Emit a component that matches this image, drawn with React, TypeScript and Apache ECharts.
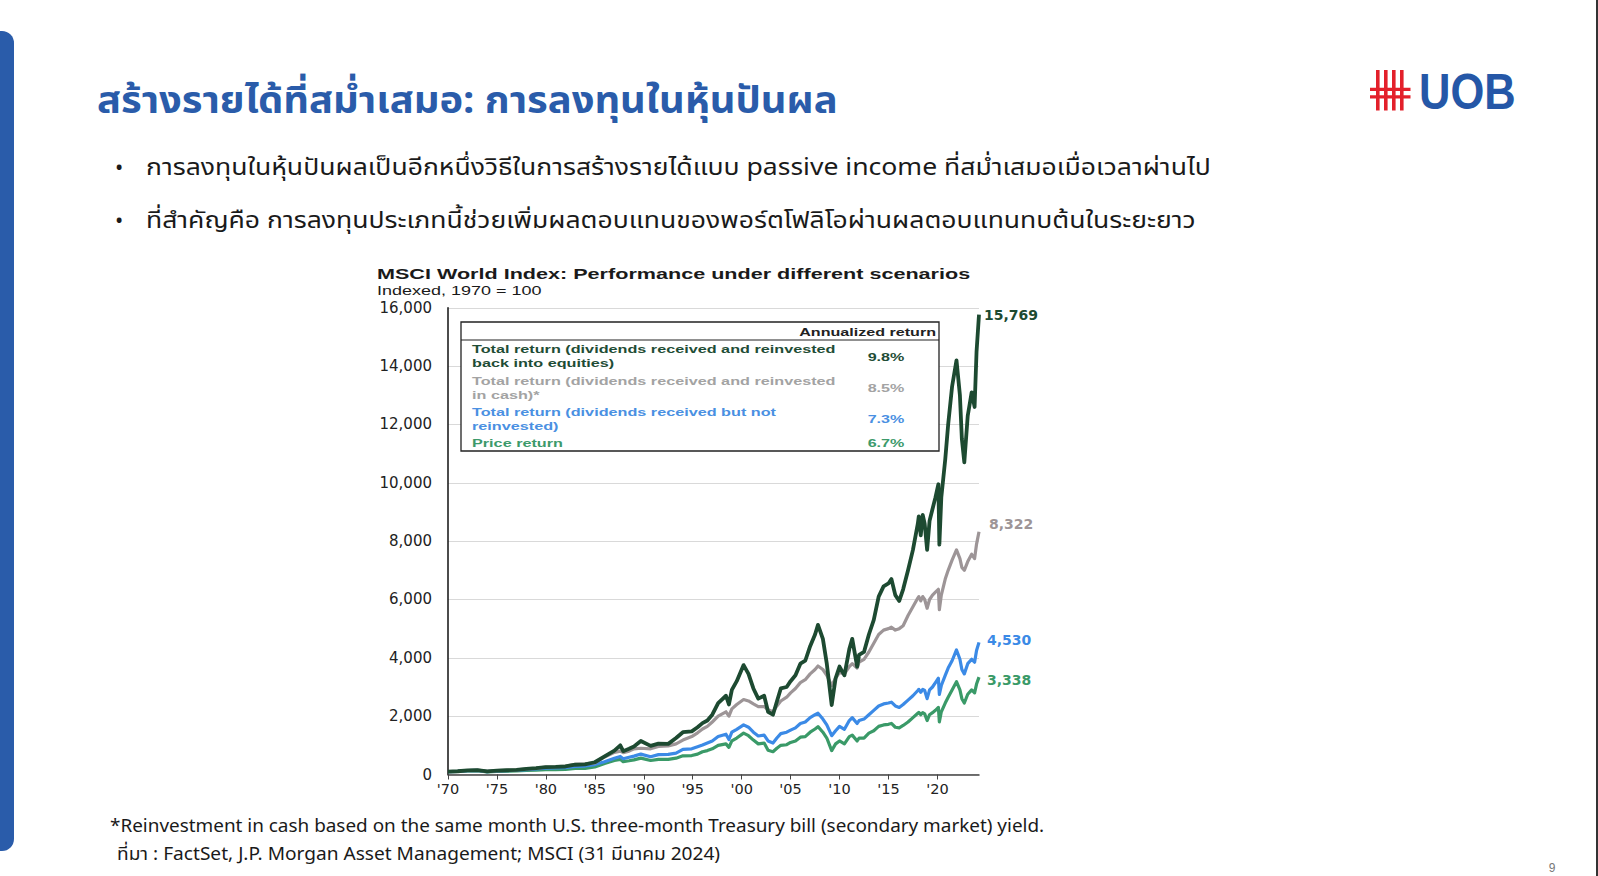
import React, { useEffect, useRef } from "react";
import * as echarts from "echarts";

// ---------- DATA ----------
const years = [
  1970, 1971, 1972, 1973, 1974, 1975, 1976, 1977, 1978, 1979,
  1980, 1981, 1982, 1983, 1984, 1985, 1986, 1987, 1987.6, 1987.9,
  1988.5, 1989, 1989.7, 1990.7, 1991.5, 1992.5, 1993.3, 1994, 1994.9, 1995.5,
  1996, 1996.5, 1997, 1997.6, 1998.4, 1998.7, 1999, 1999.5, 2000.2, 2000.7,
  2001.2, 2001.7, 2002.3, 2002.7, 2003.2, 2003.6, 2004, 2004.6, 2005, 2005.5,
  2006, 2006.5, 2007, 2007.5, 2007.8, 2008.3, 2008.7, 2009.2, 2009.6, 2010,
  2010.5, 2011, 2011.3, 2011.8, 2012, 2012.5, 2013, 2013.5, 2014, 2014.5,
  2015, 2015.3, 2015.7, 2016.1, 2016.5, 2017, 2017.5, 2018, 2018.1, 2018.3,
  2018.5, 2018.7, 2018.95, 2019.2, 2019.5, 2019.8, 2020.1, 2020.2, 2020.4, 2020.8,
  2021.1, 2021.5, 2021.95, 2022.3, 2022.5, 2022.75, 2023.1, 2023.5, 2023.8, 2024.0,
  2024.25,
];

const totalReinvestedEquities = [
  100, 112, 140, 150, 105, 130, 145, 160, 190, 215,
  255, 260, 275, 335, 350, 420, 620, 820, 1000, 800,
  880, 960, 1150, 980, 1060, 1050, 1250, 1450, 1480, 1620,
  1760, 1850, 2050, 2450, 2700, 2400, 2900, 3200, 3750, 3450,
  2950, 2600, 2700, 2150, 2050, 2500, 2950, 3000, 3200, 3400,
  3800, 3900, 4400, 4800, 5130, 4650, 3800, 2380, 3300, 3700,
  3400, 4300, 4650, 3700, 4100, 4200, 4800, 5300, 6100, 6450,
  6550, 6700, 6150, 5950, 6350, 7000, 7700, 8600, 8850, 8200,
  8900, 8600, 7700, 8700, 9100, 9500, 9950, 7880, 9500, 10800,
  12000, 13300, 14200, 13000, 11500, 10700, 12300, 13100, 12600, 14500,
  15769,
];

const totalReinvestedCash = [
  100, 111, 138, 148, 108, 130, 143, 158, 188, 212,
  255, 265, 285, 345, 365, 400, 600, 760, 800, 750,
  800, 880, 900, 880, 960, 980, 1050, 1180, 1300, 1430,
  1560, 1650, 1800, 2000, 2150, 2000, 2250, 2400, 2570, 2520,
  2420, 2330, 2330, 2220, 2150, 2350, 2520, 2650, 2800, 2950,
  3150, 3250, 3450, 3600, 3720, 3600, 3400, 3050, 3300, 3500,
  3450, 3700, 3800, 3650, 3850, 3950, 4200, 4500, 4800, 4950,
  5000, 5050, 4950, 5000, 5100, 5450, 5750, 6050, 6100, 5950,
  6100, 6000, 5700, 6000, 6150, 6250, 6350, 5650, 6150, 6700,
  7000, 7350, 7700, 7400, 7100, 7000, 7300, 7550, 7400, 7900,
  8322,
];

const totalNotReinvested = [
  100, 108, 132, 140, 100, 122, 133, 145, 170, 190,
  220, 222, 232, 280, 290, 340, 440, 560, 620, 540,
  590, 630, 700, 610, 680, 690, 730, 860, 880, 950,
  1010, 1080, 1150, 1300, 1380, 1200, 1450, 1550, 1700, 1620,
  1450, 1320, 1350, 1150, 1080, 1250, 1400, 1450, 1520, 1600,
  1750, 1800, 1950, 2050, 2100, 1900, 1700, 1330, 1500, 1650,
  1550, 1850, 1950, 1750, 1850, 1900, 2050, 2200, 2350, 2420,
  2450, 2480, 2350, 2300, 2400, 2550, 2700, 2880, 2920, 2820,
  2920, 2880, 2600, 2900, 3000, 3150, 3300, 2750, 3050, 3400,
  3650, 3900, 4270, 3950, 3600, 3450, 3800, 3950, 3850, 4250,
  4530,
];

const priceReturn = [
  100, 104, 125, 130, 88, 105, 112, 120, 138, 150,
  170, 168, 172, 205, 210, 260, 380, 480, 520, 440,
  470, 500, 560, 480, 520, 520, 560, 640, 650, 700,
  780, 820, 880, 1000, 1050, 930, 1150, 1250, 1420, 1330,
  1180, 1050, 1080, 830, 780, 900, 1000, 1020, 1100, 1150,
  1280, 1300, 1450, 1560, 1640, 1450, 1250, 820, 1050, 1150,
  1050, 1300, 1350, 1150, 1250, 1250, 1420, 1500, 1650, 1700,
  1720, 1750, 1620, 1600, 1680, 1800, 1950, 2100, 2130, 2050,
  2120, 2080, 1850, 2050, 2120, 2200, 2300, 1800, 2150, 2450,
  2650, 2900, 3180, 2900, 2600, 2450, 2750, 2900, 2800, 3100,
  3338,
];

const tableLabelLines = [
  ["Total return (dividends received and reinvested", "back into equities)"],
  ["Total return (dividends received and reinvested", "in cash)*"],
  ["Total return (dividends received but not", "reinvested)"],
  ["Price return"],
];
const annualizedReturns = ["9.8%", "8.5%", "7.3%", "6.7%"];

const bullets = [
  "การลงทุนในหุ้นปันผลเป็นอีกหนึ่งวิธีในการสร้างรายได้แบบ passive income ที่สม่ำเสมอเมื่อเวลาผ่านไป",
  "ที่สำคัญคือ การลงทุนประเภทนี้ช่วยเพิ่มผลตอบแทนของพอร์ตโฟลิโอผ่านผลตอบแทนทบต้นในระยะยาว",
];

// ---------- STYLE ----------
const C_DG = "#1d4a31";
const C_GRAY = "#9d9597";
const C_BLUE = "#3b8ae6";
const C_GREEN = "#3a9a68";
const T_DG = "#1f4d36";
const T_GRAY = "#a3a3a3";
const T_BLUE = "#4a90e2";
const T_GREEN = "#3d9a6b";
const UOB_BLUE = "#2a5caa";
const THAI = "'Noto Sans Thai', 'Noto Sans Thai UI', 'Sarabun', 'Loma', 'Garuda', 'Noto Sans', sans-serif";
const SX = 1.44;

function zip(vals: number[]) {
  const n = Math.min(years.length, vals.length);
  const out: number[][] = [];
  for (let i = 0; i < n; i++) out.push([years[i], vals[i]]);
  return out;
}

function fmt(v: number) {
  return Math.round(v).toLocaleString("en-US");
}

function lineSeries(name: string, vals: number[], color: string, width: number, offset: number[], z: number) {
  return {
    type: "line",
    name,
    data: zip(vals),
    showSymbol: false,
    symbol: "none",
    z,
    lineStyle: { color, width, join: "round" },
    itemStyle: { color },
    endLabel: {
      show: true,
      formatter: (p: any) => fmt(p.value[1]),
      color,
      fontFamily: "DejaVu Sans",
      fontWeight: "bold",
      fontSize: 14,
      distance: 5,
      offset,
    },
  };
}

export default function App() {
  const ref = useRef<HTMLDivElement>(null);
  useEffect(() => {
    document.body.style.margin = "0";
    const chart = echarts.init(ref.current!, null, { renderer: "svg" });

    const graphic: any[] = [];
    // left blue bar
    graphic.push({ type: "rect", shape: { x: -14, y: 31, width: 28, height: 820, r: 12 }, style: { fill: UOB_BLUE } });
    // right edge line
    graphic.push({ type: "rect", shape: { x: 1596, y: 0, width: 2, height: 876 }, style: { fill: "#333" } });
    // title
    graphic.push({
      type: "text", x: 97, y: 102, scaleX: 1.05,
      style: { text: "สร้างรายได้ที่สม่ำเสมอ: การลงทุนในหุ้นปันผล", font: `bold 38px ${THAI}`, fill: UOB_BLUE, align: "left", verticalAlign: "middle" },
    });
    // logo
    const red = "#e3202b";
    [1376, 1384, 1392, 1400].forEach((x) =>
      graphic.push({ type: "rect", shape: { x, y: 70, width: 3.6, height: 40.5 }, style: { fill: red } })
    );
    [87.7, 95.3].forEach((y) =>
      graphic.push({ type: "rect", shape: { x: 1370, y, width: 40.5, height: 3.2 }, style: { fill: red } })
    );
    graphic.push({
      type: "text", x: 1419, y: 92, scaleX: 0.87,
      style: { text: "UOB", font: "bold 50px 'Liberation Sans'", fill: "#2557a7", align: "left", verticalAlign: "middle" },
    });
    // bullets
    bullets.forEach((b, i) => {
      const y = 168 + i * 53;
      graphic.push({ type: "text", x: 115, y, style: { text: "•", font: `22px ${THAI}`, fill: "#1a1a1a", align: "left", verticalAlign: "middle" } });
      graphic.push({ type: "text", x: 146, y, scaleX: 1.13, style: { text: b, font: `23.5px ${THAI}`, fill: "#1a1a1a", align: "left", verticalAlign: "middle" } });
    });
    // chart title
    graphic.push({
      type: "text", x: 377, y: 274, scaleX: SX,
      style: { text: "MSCI World Index: Performance under different scenarios", font: "bold 15px 'Liberation Sans'", fill: "#1a1a1a", align: "left", verticalAlign: "middle" },
    });
    graphic.push({
      type: "text", x: 377, y: 290.5, scaleX: SX,
      style: { text: "Indexed, 1970 = 100", font: "12.5px 'Liberation Sans'", fill: "#1a1a1a", align: "left", verticalAlign: "middle" },
    });
    // table
    graphic.push({ type: "rect", z: 10, shape: { x: 461, y: 322, width: 478, height: 129 }, style: { fill: "#fff", stroke: "#222", lineWidth: 1.3 } });
    graphic.push({ type: "line", z: 11, shape: { x1: 461, y1: 340, x2: 939, y2: 340 }, style: { stroke: "#222", lineWidth: 1.2 } });
    graphic.push({
      type: "text", z: 11, x: 936, y: 331.5, scaleX: 1.4,
      style: { text: "Annualized return", font: "bold 11.5px 'Liberation Sans'", fill: "#222", align: "right", verticalAlign: "middle" },
    });
    const rowColors = [T_DG, T_GRAY, T_BLUE, T_GREEN];
    const rowY = [349.3, 380.7, 412.3, 443.3];
    const valY = [356.5, 387.5, 418.5, 443.3];
    tableLabelLines.forEach((lines, i) => {
      lines.forEach((t, j) =>
        graphic.push({
          type: "text", z: 11, x: 472, y: rowY[i] + j * 13.8, scaleX: 1.41,
          style: { text: t, font: "bold 11.5px 'Liberation Sans'", fill: rowColors[i], align: "left", verticalAlign: "middle" },
        })
      );
      graphic.push({
        type: "text", z: 11, x: 886, y: valY[i], scaleX: 1.4,
        style: { text: annualizedReturns[i], font: "bold 11.5px 'Liberation Sans'", fill: rowColors[i], align: "center", verticalAlign: "middle" },
      });
    });
    // footer
    graphic.push({
      type: "text", x: 110, y: 826, scaleX: 1.04,
      style: { text: "*Reinvestment in cash based on the same month U.S. three-month Treasury bill (secondary market) yield.", font: `18.2px ${THAI}`, fill: "#1a1a1a", align: "left", verticalAlign: "middle" },
    });
    graphic.push({
      type: "text", x: 117, y: 854, scaleX: 1.05,
      style: { text: "ที่มา : FactSet, J.P. Morgan Asset Management; MSCI (31 มีนาคม 2024)", font: `18.2px ${THAI}`, fill: "#1a1a1a", align: "left", verticalAlign: "middle" },
    });
    graphic.push({
      type: "text", x: 1552, y: 868,
      style: { text: "9", font: "12px 'Liberation Sans'", fill: "#777", align: "center", verticalAlign: "middle" },
    });

    chart.setOption({
      animation: false,
      backgroundColor: "#ffffff",
      grid: { left: 448, right: 619, top: 307.8, bottom: 101.5 },
      xAxis: {
        type: "value",
        min: 1970,
        max: 2024.25,
        interval: 5,
        axisLine: { show: true, lineStyle: { color: "#444", width: 1.5 } },
        axisTick: { show: true, length: 5, lineStyle: { color: "#444", width: 1 } },
        axisLabel: {
          formatter: (v: number) => "'" + String(v).slice(2),
          fontFamily: "DejaVu Sans",
          fontSize: 14.5,
          color: "#222",
          margin: 7,
          showMaxLabel: false,
        },
        splitLine: { show: false },
      },
      yAxis: {
        type: "value",
        min: 0,
        max: 16000,
        interval: 2000,
        axisLine: { show: true, lineStyle: { color: "#111", width: 1.5 } },
        axisTick: { show: false },
        axisLabel: {
          formatter: (v: number) => fmt(v),
          fontFamily: "DejaVu Sans",
          fontSize: 15,
          color: "#222",
          margin: 16,
        },
        splitLine: { lineStyle: { color: "#d9d9d9", width: 1 } },
      },
      series: [
        lineSeries("Price return", priceReturn, C_GREEN, 3.2, [3, 3], 2),
        lineSeries("Total return (dividends received but not reinvested)", totalNotReinvested, C_BLUE, 3.2, [3, -2], 3),
        lineSeries("Total return (dividends received and reinvested in cash)", totalReinvestedCash, C_GRAY, 3.2, [5, -8], 4),
        lineSeries("Total return (dividends received and reinvested back into equities)", totalReinvestedEquities, C_DG, 3.8, [0, 0], 5),
      ],
      graphic,
    });
    return () => chart.dispose();
  }, []);
  return <div ref={ref} style={{ width: 1598, height: 876 }} />;
}
